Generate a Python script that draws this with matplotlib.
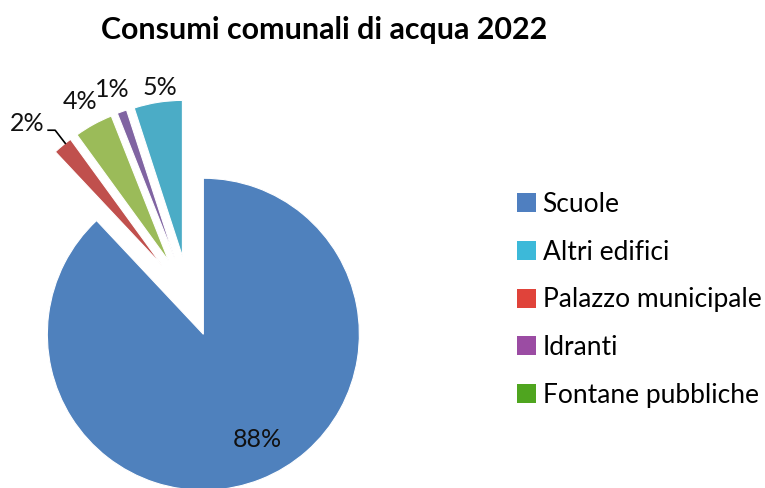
import matplotlib
matplotlib.use("Agg")
import numpy as np
from matplotlib import pyplot as plt
from matplotlib.patches import Patch

# data, in clockwise pie order starting at 12 o'clock
categories = ["Scuole", "Palazzo municipale", "Fontane pubbliche", "Idranti", "Altri edifici"]
values = [88, 2, 4, 1, 5]
pie_colors = ["#4f81bd", "#c0504d", "#9bbb59", "#8064a2", "#4bacc6"]

# legend (own order and colours, as in the picture)
legend_labels = ["Scuole", "Altri edifici", "Palazzo municipale", "Idranti", "Fontane pubbliche"]
legend_colors = ["#4f7fc0", "#3cb9d9", "#e0433a", "#9b4ca3", "#4fa51f"]

title = "Consumi comunali di acqua 2022"

plt.rcParams["font.family"] = ["Lato", "DejaVu Sans"]

W, H = 765, 488
cx, cy, r = 189, 298, 156  # pie centre (before explode) / radius in pixels

fig = plt.figure(figsize=(W / 100, H / 100), dpi=100)
ax = fig.add_axes([0, 0, 1, 1])

explode = [0.25 if v == max(values) else 0.27 for v in values]
wedges, _ = ax.pie(values, colors=pie_colors, startangle=90, counterclock=False,
                   explode=explode, radius=1,
                   wedgeprops=dict(edgecolor="white", linewidth=0.8))

# pie() resets the limits, so set them afterwards
ax.set_xlim(-cx / r, (W - cx) / r)
ax.set_ylim((cy - H) / r, cy / r)
ax.set_aspect("equal")
ax.axis("off")

# per-slice label placement: radial distance, angle nudge (deg)
label_dist = [0.76, 1.258, 1.168, 1.152, 1.095]
label_nudge = [5.3, 3.9, 0.3, 0.6, -1.5]
for w, v, d, n in zip(wedges, values, label_dist, label_nudge):
    mid = (w.theta1 + w.theta2) / 2
    a = np.deg2rad(mid + n)
    x0, y0 = w.center
    tx, ty = x0 + d * np.cos(a), y0 + d * np.sin(a)
    ax.text(tx, ty, f"{v}%", ha="center", va="center", fontsize=18, color="#111111")
    if v == 2:
        # small leader line for the 2% label
        m2 = np.deg2rad(mid - 1.2)
        ex, ey = x0 + np.cos(m2), y0 + np.sin(m2)
        ax.plot([tx + 0.135, tx + 0.18, ex], [ty - 0.045, ty - 0.045, ey],
                color="black", lw=1.2)

fig.text(324 / W, 1 - 30 / H, title, ha="center", va="center",
         fontsize=21.9, fontweight="bold", color="black")

handles = [Patch(facecolor=c, edgecolor="none") for c in legend_colors]
fig.legend(handles, legend_labels, loc="upper left", bbox_to_anchor=(517 / W, 1 - 192 / H),
           frameon=False, fontsize=19, handlelength=0.72, handleheight=0.72,
           handletextpad=0.25, labelspacing=0.86, borderaxespad=0, borderpad=0)

fig.savefig("out.png", dpi=100, facecolor="white")
